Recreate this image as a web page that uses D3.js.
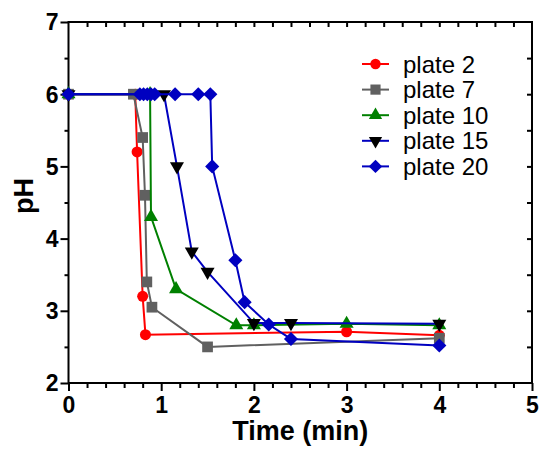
<!DOCTYPE html>
<html><head><meta charset="utf-8">
<script src="https://cdn.jsdelivr.net/npm/d3@7"></script>
<style>body{margin:0;background:#fff}svg{display:block}</style>
</head><body><svg id="c" width="539" height="452"></svg>
<script>
// ---- data ----
const seriesNames = ["plate 2", "plate 7", "plate 10", "plate 15", "plate 20"];
const plate2Time  = [0, 0.72, 0.74, 0.80, 0.83, 3.0, 4.0];
const plate2pH    = [6, 6, 5.2, 3.2, 2.67, 2.71, 2.66];
const plate7Time  = [0, 0.70, 0.80, 0.825, 0.845, 0.90, 1.50, 4.0];
const plate7pH    = [6, 6, 5.4, 4.6, 3.4, 3.05, 2.5, 2.62];
const plate10Time = [0, 0.88, 0.89, 1.16, 1.81, 2.0, 3.0, 4.0];
const plate10pH   = [6, 6, 4.3, 3.3, 2.8, 2.8, 2.82, 2.8];
const plate15Time = [0, 1.03, 1.17, 1.33, 1.50, 2.0, 2.4, 4.0];
const plate15pH   = [6, 6, 5.0, 3.82, 3.54, 2.83, 2.83, 2.82];
const plate20Time = [0, 0.77, 0.81, 0.85, 0.89, 0.93, 1.15, 1.40, 1.53, 1.55, 1.80, 1.90, 2.16, 2.40, 4.0];
const plate20pH   = [6, 6, 6, 6, 6, 6, 6, 6, 6, 5.0, 3.7, 3.12, 2.81, 2.61, 2.52];
const xTicks = [0, 1, 2, 3, 4, 5];
const yTicks = [2, 3, 4, 5, 6, 7];

const svg = d3.select("#c");
const L = 68.5, R = 532, T = 22, B = 383;
const x = d3.scaleLinear().domain([0, 5]).range([L, R]);
const y = d3.scaleLinear().domain([2, 7]).range([B, T]);

const styles = [
  {line: "#ff0000", fill: "#ff0000", sym: d3.symbolCircle, size: 95, rot: 0},
  {line: "#606060", fill: "#606060", sym: d3.symbolSquare, size: 115, rot: 0},
  {line: "#008000", fill: "#008000", sym: d3.symbolTriangle, size: 85, rot: 0},
  {line: "#0000c0", fill: "#000000", sym: d3.symbolTriangle, size: 85, rot: 180},
  {line: "#0000c0", fill: "#0000c0", sym: d3.symbolSquare, size: 100, rot: 45}
];
const series = [
  [plate2Time, plate2pH], [plate7Time, plate7pH], [plate10Time, plate10pH],
  [plate15Time, plate15pH], [plate20Time, plate20pH]
];

// ---- axes ----
const font = "'Liberation Sans', Arial, sans-serif";
// bottom
const gx = svg.append("g").attr("transform", `translate(0,${B})`)
  .call(d3.axisBottom(x).tickValues(xTicks).tickFormat(d3.format("d")).tickSize(8).tickPadding(6));
const gxm = svg.append("g").attr("transform", `translate(0,${B})`)
  .call(d3.axisBottom(x).tickValues(d3.range(0, 5.01, 0.2).filter(v => Math.abs(v - Math.round(v)) > 1e-6)).tickSize(5).tickFormat(""));
// left
const gy = svg.append("g").attr("transform", `translate(${L},0)`)
  .call(d3.axisLeft(y).tickValues(yTicks).tickFormat(d3.format("d")).tickSize(8).tickPadding(2));
const gym = svg.append("g").attr("transform", `translate(${L},0)`)
  .call(d3.axisLeft(y).tickValues([2.5, 3.5, 4.5, 5.5, 6.5]).tickSize(4).tickFormat(""));
// top (inward)
const gt = svg.append("g").attr("transform", `translate(0,${T})`)
  .call(d3.axisBottom(x).tickValues(d3.range(0.2, 5.0, 0.2)).tickSize(5).tickFormat(""));
// right (inward)
const gr = svg.append("g").attr("transform", `translate(${R},0)`)
  .call(d3.axisLeft(y).tickValues(d3.range(2.5, 7, 0.5)).tickSize(5).tickFormat(""));
[gx, gxm, gy, gym, gt, gr].forEach(g => {
  g.select(".domain").remove();
  g.selectAll(".tick line").attr("stroke", "#000").attr("stroke-width", 2);
});
[gx, gy].forEach(g => g.selectAll(".tick text")
  .attr("font-family", font).attr("font-weight", "bold").attr("font-size", 23).attr("fill", "#000"));
gy.selectAll(".tick text").attr("dy", "0.34em");
// frame
svg.append("rect").attr("x", L).attr("y", T).attr("width", R - L).attr("height", B - T)
  .attr("fill", "none").attr("stroke", "#000").attr("stroke-width", 2);

// ---- series ----
const line = d3.line().x(d => x(d[0])).y(d => y(d[1]));
series.forEach((s, i) => {
  const pts = s[0].map((t, j) => [t, s[1][j]]);
  const st = styles[i];
  const g = svg.append("g");
  g.append("path").attr("d", line(pts)).attr("fill", "none")
    .attr("stroke", st.line).attr("stroke-width", 2);
  g.selectAll("path.m").data(pts).join("path").attr("class", "m")
    .attr("d", d3.symbol().type(st.sym).size(st.size))
    .attr("transform", d => `translate(${x(d[0])},${y(d[1])}) rotate(${st.rot})`)
    .attr("fill", st.fill);
});

// ---- legend ----
const lg = svg.append("g");
seriesNames.forEach((n, i) => {
  const st = styles[i];
  const yy = 64 + i * 25.6;
  lg.append("line").attr("x1", 362).attr("x2", 389).attr("y1", yy).attr("y2", yy)
    .attr("stroke", st.line).attr("stroke-width", 2);
  lg.append("path").attr("d", d3.symbol().type(st.sym).size(st.size * 0.9))
    .attr("transform", `translate(375.5,${yy}) rotate(${st.rot})`).attr("fill", st.fill);
  lg.append("text").attr("x", 403).attr("y", yy).attr("dy", "0.36em")
    .attr("font-family", font).attr("font-size", 24).attr("fill", "#000").text(n);
});

// ---- titles ----
svg.append("text").attr("x", (L + R) / 2).attr("y", 440).attr("text-anchor", "middle")
  .attr("font-family", font).attr("font-weight", "bold").attr("font-size", 27).text("Time (min)");
svg.append("text").attr("transform", "translate(33,196) rotate(-90)").attr("text-anchor", "middle")
  .attr("font-family", font).attr("font-weight", "bold").attr("font-size", 27).text("pH");
</script></body></html>
